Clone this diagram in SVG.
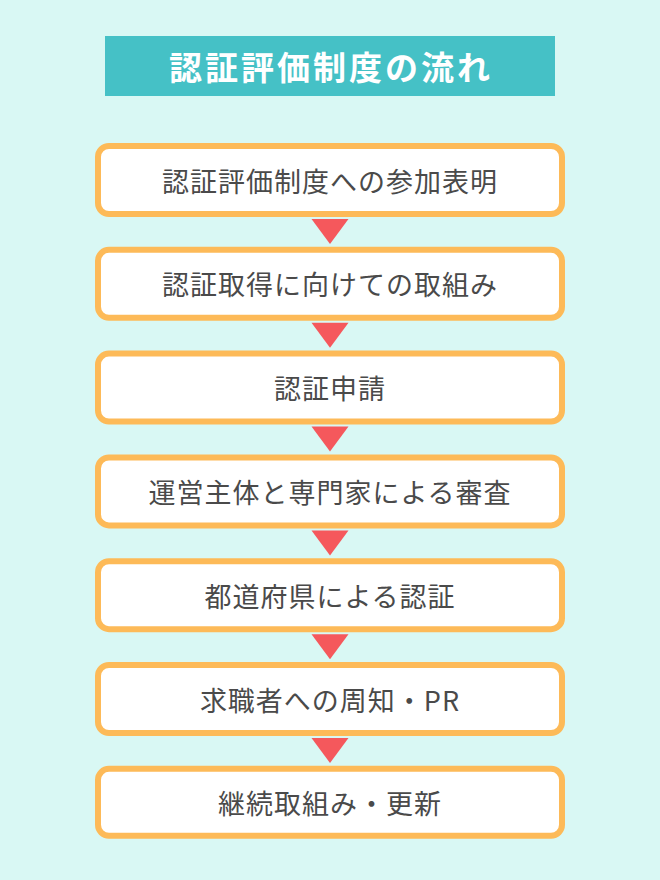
<svg xmlns="http://www.w3.org/2000/svg" width="660" height="880" viewBox="0 0 660 880">
<style>
.box{fill:#FFFFFF;stroke:#FDBA58;stroke-width:6}
.lbl{font-family:"Noto Sans CJK JP","Noto Sans",sans-serif;font-size:27px;font-weight:400;fill:#4A4A4A;text-anchor:middle;dominant-baseline:central;letter-spacing:1px}
.arr{fill:#F5585C}
.title{font-family:"Noto Sans CJK JP","Noto Sans",sans-serif;font-size:33px;font-weight:bold;fill:#FFFFFF;text-anchor:middle;dominant-baseline:central;letter-spacing:3px}
</style>
<rect x="0" y="0" width="660" height="880" fill="#D9F8F4"/>
<g id="title">
<rect x="105" y="36" width="450" height="60" fill="#45C1C6"/>
<text class="title" x="331" y="66">認証評価制度の流れ</text>
</g>
<g id="connectors">
<polygon class="arr" points="311.5,219 348.5,219 330,244"/>
<polygon class="arr" points="311.5,322.8 348.5,322.8 330,347.8"/>
<polygon class="arr" points="311.5,426.6 348.5,426.6 330,451.6"/>
<polygon class="arr" points="311.5,530.4 348.5,530.4 330,555.4"/>
<polygon class="arr" points="311.5,634.2 348.5,634.2 330,659.2"/>
<polygon class="arr" points="311.5,738 348.5,738 330,763"/>
</g>
<g id="n1"><rect class="box" x="98" y="146" width="464" height="68" rx="11"/><text class="lbl" x="330" y="180">認証評価制度への参加表明</text></g>
<g id="n2"><rect class="box" x="98" y="249.8" width="464" height="68" rx="11"/><text class="lbl" x="330" y="283.8">認証取得に向けての取組み</text></g>
<g id="n3"><rect class="box" x="98" y="353.6" width="464" height="68" rx="11"/><text class="lbl" x="330" y="387.6">認証申請</text></g>
<g id="n4"><rect class="box" x="98" y="457.4" width="464" height="68" rx="11"/><text class="lbl" x="330" y="491.4">運営主体と専門家による審査</text></g>
<g id="n5"><rect class="box" x="98" y="561.2" width="464" height="68" rx="11"/><text class="lbl" x="330" y="595.2">都道府県による認証</text></g>
<g id="n6"><rect class="box" x="98" y="665" width="464" height="68" rx="11"/><text class="lbl" x="330" y="699">求職者への周知・PR</text></g>
<g id="n7"><rect class="box" x="98" y="768.8" width="464" height="67" rx="11"/><text class="lbl" x="330" y="802.5">継続取組み・更新</text></g>
</svg>
